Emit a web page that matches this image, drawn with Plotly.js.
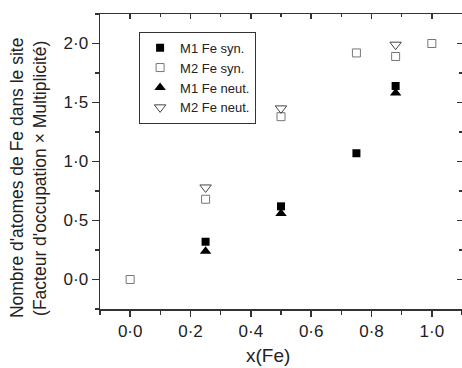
<!DOCTYPE html>
<html>
<head>
<meta charset="utf-8">
<script src="https://cdn.plot.ly/plotly-3.0.1.min.js"></script>
<style>html,body{margin:0;padding:0;background:#fff;}#chart{width:462px;height:368px;}</style>
</head>
<body>
<div id="chart"></div>
<script>
const m1SynX = [0.25, 0.5, 0.75, 0.88];
const m1SynY = [0.32, 0.62, 1.07, 1.64];
const m2SynX = [0, 0.25, 0.5, 0.75, 0.88, 1.0];
const m2SynY = [0.0, 0.68, 1.38, 1.92, 1.89, 2.0];
const m1NeutX = [0.25, 0.5, 0.88];
const m1NeutY = [0.24, 0.56, 1.58];
const m2NeutX = [0.25, 0.5, 0.88];
const m2NeutY = [0.78, 1.45, 1.99];
const seriesNames = ['M1 Fe syn.', 'M2 Fe syn.', 'M1 Fe neut.', 'M2 Fe neut.'];
const xTitle = 'x(Fe)';
const yTitleLines = ["Nombre d'atomes de Fe dans le site", "(Facteur d'occupation × Multiplicité)"];

const FONT = 'Liberation Sans, Arial, sans-serif';
const traces = [
  {x: m1SynX, y: m1SynY, name: seriesNames[0], mode: 'markers', type: 'scatter',
   marker: {symbol: 'square', size: 8, color: '#000'}},
  {x: m2SynX, y: m2SynY, name: seriesNames[1], mode: 'markers', type: 'scatter',
   marker: {symbol: 'square-open', size: 8, color: '#777', line: {width: 1}}},
  {x: m1NeutX, y: m1NeutY, name: seriesNames[2], mode: 'markers', type: 'scatter',
   marker: {symbol: 'triangle-up', size: 10, color: '#000'}},
  {x: m2NeutX, y: m2NeutY, name: seriesNames[3], mode: 'markers', type: 'scatter',
   marker: {symbol: 'triangle-down-open', size: 10, color: '#444', line: {width: 1}}},
  // invisible copy so that the mirrored top/right axes are drawn
  {x: m2SynX, y: m2SynY, xaxis: 'x2', yaxis: 'y2', mode: 'markers', type: 'scatter',
   marker: {opacity: 0}, showlegend: false, hoverinfo: 'skip'}
];

const axisCommon = {
  showline: true, linecolor: '#333', linewidth: 1.5, showgrid: false, zeroline: false,
  tickcolor: '#333', tickwidth: 1.5, tickformat: '.1f',
  tickfont: {family: FONT, size: 17, color: '#222'}
};

const layout = {
  width: 462, height: 368,
  margin: {l: 100, r: 0, t: 14, b: 59},
  separators: '·,',
  paper_bgcolor: '#fff', plot_bgcolor: '#fff',
  font: {family: FONT, color: '#222'},
  showlegend: true,
  legend: {x: 0.108, y: 0.94, xanchor: 'left', yanchor: 'top',
           bordercolor: '#333', borderwidth: 1, bgcolor: '#fff',
           font: {family: FONT, size: 13, color: '#222'}, tracegroupgap: 0},
  xaxis: Object.assign({}, axisCommon, {
    range: [-0.1, 1.1], tickmode: 'linear', tick0: 0, dtick: 0.2,
    ticks: 'outside', ticklen: 6, ticklabelstandoff: 0,
    minor: {ticks: 'outside', ticklen: 4, dtick: 0.1, tick0: 0, tickcolor: '#333', tickwidth: 1.5}
  }),
  yaxis: Object.assign({}, axisCommon, {
    range: [-0.25, 2.25], tickmode: 'linear', tick0: 0, dtick: 0.5,
    ticks: 'outside', ticklen: 7,
    minor: {ticks: 'outside', ticklen: 4, dtick: 0.25, tick0: 0, tickcolor: '#333', tickwidth: 1.5}
  }),
  xaxis2: {overlaying: 'x', side: 'top', anchor: 'y', matches: 'x', range: [-0.1, 1.1],
    showline: true, linecolor: '#333', linewidth: 1.5, showgrid: false, zeroline: false,
    showticklabels: false, ticks: 'inside', ticklen: 5, tickcolor: '#333', tickwidth: 1.5,
    tickmode: 'linear', tick0: 0, dtick: 0.2,
    minor: {ticks: 'inside', ticklen: 3, dtick: 0.1, tick0: 0, tickcolor: '#333', tickwidth: 1.5}},
  yaxis2: {overlaying: 'y', side: 'right', anchor: 'x', matches: 'y', range: [-0.25, 2.25],
    showline: false, showgrid: false, zeroline: false,
    showticklabels: false, ticks: 'inside', ticklen: 5, tickcolor: '#333', tickwidth: 1.5,
    tickmode: 'linear', tick0: 0, dtick: 0.5,
    minor: {ticks: 'inside', ticklen: 3, dtick: 0.25, tick0: 0, tickcolor: '#333', tickwidth: 1.5}},
  annotations: [
    {text: xTitle, xref: 'paper', yref: 'paper', x: 0.464, y: -0.159,
     xanchor: 'center', yanchor: 'middle', showarrow: false,
     font: {family: FONT, size: 19, color: '#222'}},
    {text: yTitleLines[0], xref: 'paper', yref: 'paper', x: -0.229, y: 0.444,
     xanchor: 'center', yanchor: 'middle', showarrow: false, textangle: -90,
     font: {family: FONT, size: 17.5, color: '#222'}},
    {text: yTitleLines[1], xref: 'paper', yref: 'paper', x: -0.166, y: 0.444,
     xanchor: 'center', yanchor: 'middle', showarrow: false, textangle: -90,
     font: {family: FONT, size: 17.5, color: '#222'}}
  ]
};

Plotly.newPlot('chart', traces, layout, {staticPlot: true, displayModeBar: false});
</script>
</body>
</html>
